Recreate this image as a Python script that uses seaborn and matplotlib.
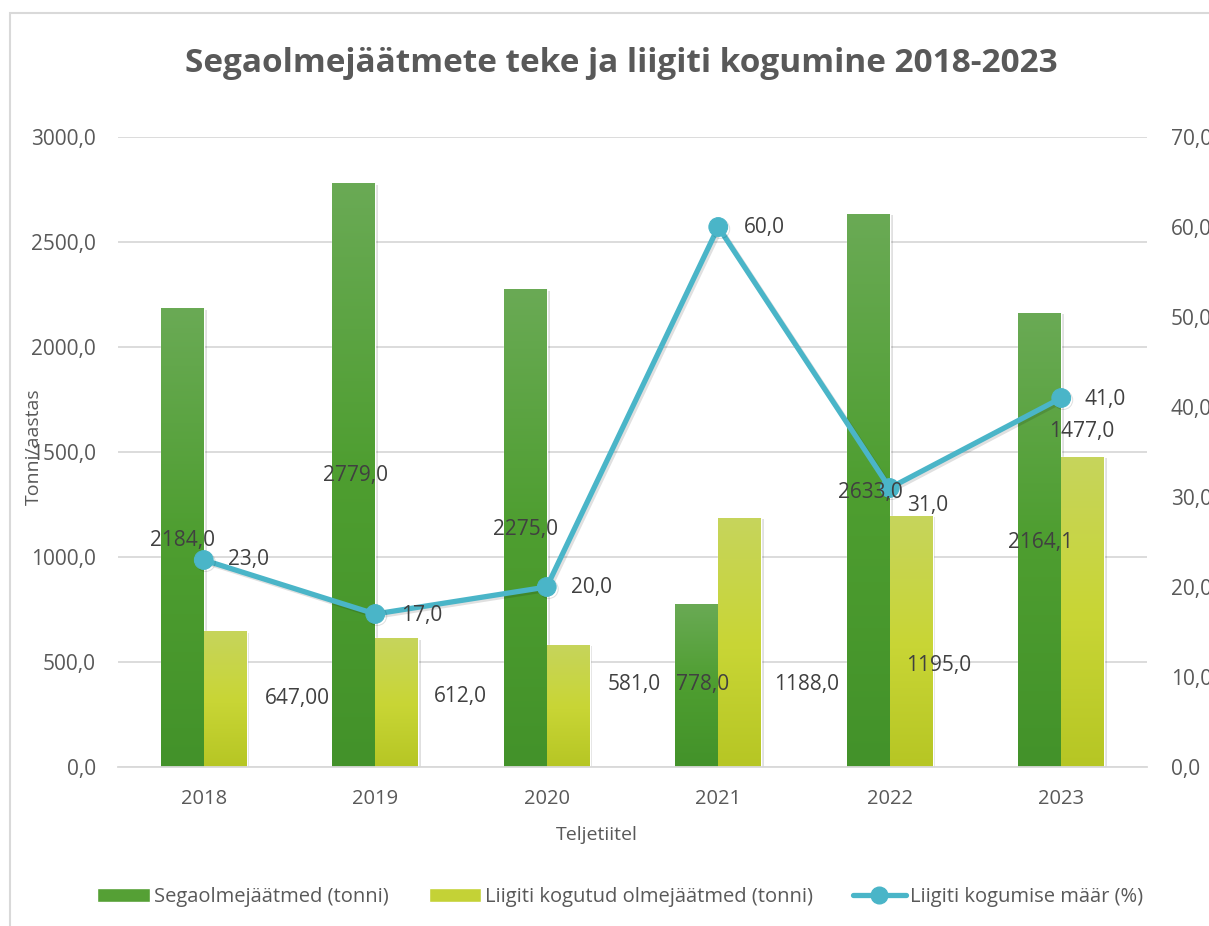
import numpy as np
import pandas as pd
import seaborn as sns
import matplotlib
matplotlib.use('Agg')
import matplotlib.pyplot as plt
import matplotlib.patheffects as pe
from matplotlib.colors import LinearSegmentedColormap
from matplotlib.lines import Line2D
from matplotlib.patches import Patch, Rectangle
from matplotlib.ticker import FuncFormatter, MultipleLocator

# Data
years = ['2018', '2019', '2020', '2021', '2022', '2023']
mixed_waste = [2184.0, 2779.0, 2275.0, 778.0, 2633.0, 2164.1]
separate_waste = [647.0, 612.0, 581.0, 1188.0, 1195.0, 1477.0]
separate_rate = [23.0, 17.0, 20.0, 60.0, 31.0, 41.0]
separate_labels = ['647,00', '612,0', '581,0', '1188,0', '1195,0', '1477,0']

series_names = ['Segaolmejäätmed (tonni)',
                'Liigiti kogutud olmejäätmed (tonni)',
                'Liigiti kogumise määr (%)']

# Label placement (pixel offsets from the data point), layout only
mixed_offsets = [(-21, -232), (-20, -292), (-21, -240), (-16, -81), (-19, -278), (-21, -230)]
separate_offsets = [(94, -67), (85, -58), (87, -40), (88, -167), (49, -149), (20, 25)]
rate_offsets = [(45, 0), (46, -2), (45, 0), (46, 0), (38, -18), (44, -2)]

GREEN = '#55A035'
YELLOW = '#C4D236'
TEAL = '#4AB5C8'
GRAY = '#595959'
LABEL = '#404040'
FONT = 'Open Sans'


def fmt(v, decimals=1):
    return ('%.*f' % (decimals, v)).replace('.', ',')


sns.set_style('white')
plt.rcParams['font.family'] = [FONT, 'DejaVu Sans']

fig = plt.figure(figsize=(12.09, 9.26), dpi=100)
W, H = 1209.0, 926.0
ax = fig.add_axes([118 / W, 1 - 767 / H, (1147 - 118) / W, (767 - 137) / H])

# Outer chart border (only left and top edges fall inside the picture)
fig.patches.append(Rectangle((10 / W, -0.1), 1.2, 1.1 - 13 / H, transform=fig.transFigure,
                             fill=False, edgecolor='#d9d9d9', lw=1.5))

df = pd.DataFrame({
    'year': years * 2,
    'series': [series_names[0]] * len(years) + [series_names[1]] * len(years),
    'value': mixed_waste + separate_waste,
})

sns.barplot(data=df, x='year', y='value', hue='series', palette=[GREEN, YELLOW],
            width=0.5, gap=0, saturation=1, errorbar=None, legend=False, ax=ax)

# Gradient fill and soft shadow for the bars
cmaps = [LinearSegmentedColormap.from_list('g', ['#6AAA55', '#4E9E30', '#43922A']),
         LinearSegmentedColormap.from_list('y', ['#C6D45C', '#C9D636', '#B6C624'])]
grad = np.linspace(0, 1, 256).reshape(-1, 1)
for container, cmap in zip(ax.containers, cmaps):
    for bar in container:
        bar.set_path_effects([pe.SimplePatchShadow(offset=(2, -1), shadow_rgbFace='k', alpha=0.12),
                              pe.Normal()])
        x0, w, h = bar.get_x(), bar.get_width(), bar.get_height()
        im = ax.imshow(grad, extent=[x0, x0 + w, 0, h], aspect='auto', cmap=cmap,
                       origin='upper', zorder=bar.get_zorder() + 0.1)
        im.set_clip_path(bar)

ax.set_xlim(-0.5, len(years) - 0.5)
ax.set_ylim(0, 3000)
ax.set_aspect('auto')
ax.yaxis.set_major_locator(MultipleLocator(500))
ax.yaxis.set_major_formatter(FuncFormatter(lambda v, p: fmt(v)))
ax.grid(axis='y', color='#d9d9d9', lw=1.3)
ax.set_axisbelow(True)
for s in ['top', 'left', 'right']:
    ax.spines[s].set_visible(False)
ax.spines['bottom'].set_color('#d9d9d9')
ax.spines['bottom'].set_linewidth(1.3)
ax.tick_params(axis='y', length=0, pad=16, labelsize=15, labelcolor=GRAY)
ax.tick_params(axis='x', length=0, pad=16, labelsize=14.5, labelcolor=GRAY)
ax.set_xlabel('')
ax.set_ylabel('')

# Line on the secondary axis
ax2 = ax.twinx()
sns.lineplot(x=np.arange(len(years)), y=separate_rate, ax=ax2, color=TEAL, lw=3.8,
             marker='o', markersize=13.5, markeredgecolor=TEAL, zorder=5,
             path_effects=[pe.SimpleLineShadow(offset=(1.5, -1.5), alpha=0.12), pe.Normal()])
ax2.set_ylim(0, 70)
ax2.set_xlim(-0.5, len(years) - 0.5)
ax2.yaxis.set_major_locator(MultipleLocator(10))
ax2.yaxis.set_major_formatter(FuncFormatter(lambda v, p: fmt(v)))
ax2.tick_params(axis='y', length=0, pad=17, labelsize=15, labelcolor=GRAY)
for s in ax2.spines.values():
    s.set_visible(False)
ax2.grid(False)

# Data labels (drawn on top of the line)
for i in range(len(years)):
    ax2.annotate(fmt(mixed_waste[i]), (i, mixed_waste[i]), xycoords=ax.transData,
                 xytext=mixed_offsets[i], textcoords='offset pixels',
                 ha='center', va='center', fontsize=15, color=LABEL, zorder=7)
    ax2.annotate(separate_labels[i], (i, separate_waste[i]), xycoords=ax.transData,
                 xytext=separate_offsets[i], textcoords='offset pixels',
                 ha='center', va='center', fontsize=15, color=LABEL, zorder=7)
    ax2.annotate(fmt(separate_rate[i]), (i, separate_rate[i]), xytext=rate_offsets[i],
                 textcoords='offset pixels', ha='center', va='center', fontsize=15,
                 color=LABEL, zorder=7)

# Titles
fig.text(621 / W, 1 - 63 / H, 'Segaolmejäätmete teke ja liigiti kogumine 2018-2023',
         ha='center', va='center', fontsize=24, fontweight='bold', color=GRAY)
fig.text(597 / W, 1 - 835 / H, 'Teljetiitel', ha='center', va='center', fontsize=14, color=GRAY)
fig.text(34 / W, 1 - 447 / H, 'Tonni/aastas', ha='center', va='center', rotation=90,
         fontsize=14, color=GRAY)

# Legend
handles = [Patch(facecolor=GREEN, label=series_names[0]),
           Patch(facecolor=YELLOW, label=series_names[1]),
           Line2D([0], [0], color=TEAL, lw=3.8, marker='o', markersize=12, label=series_names[2])]
leg = fig.legend(handles=handles, loc='center', bbox_to_anchor=(620 / W, 1 - 897 / H), ncol=3,
                 frameon=False, fontsize=14.5, handlelength=2.6, handleheight=0.75,
                 handletextpad=0.2, columnspacing=2.0)
for t in leg.get_texts():
    t.set_color(GRAY)

fig.savefig('out.png', dpi=100)
